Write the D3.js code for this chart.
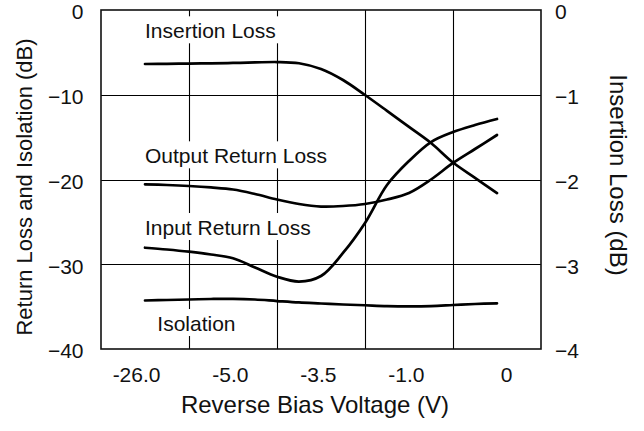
<!DOCTYPE html>
<html>
<head>
<meta charset="utf-8">
<script src="https://cdn.jsdelivr.net/npm/d3@7/dist/d3.min.js"></script>
<style>
  body { margin: 0; background: #fff; }
  svg text { font-family: "Liberation Sans", Arial, Helvetica, sans-serif; fill: #111; }
</style>
</head>
<body>
<div id="chart"></div>
<script>
// categories on the x axis (reverse bias voltage)
const voltages = ["-26.0", "-5.0", "-3.5", "-1.0", "0"];
const steps = [0, 0.25, 0.5, 0.75, 1, 1.25, 1.5, 1.75, 2, 2.25, 2.5, 2.75, 3, 3.25, 3.5, 3.75, 4];

// right axis (dB)
const insertionLoss = [-0.637, -0.635, -0.632, -0.629, -0.625, -0.619, -0.614, -0.628, -0.696,
  -0.826, -1.003, -1.19, -1.38, -1.57, -1.80, -1.98, -2.16];
// left axis (dB)
const outputReturnLoss = [-20.57, -20.65, -20.77, -20.94, -21.18, -21.71, -22.36, -22.89, -23.19,
  -23.13, -22.89, -22.36, -21.59, -20.0, -18.05, -16.4, -14.75];
const inputReturnLoss = [-28.05, -28.26, -28.52, -28.85, -29.3, -30.38, -31.47, -32.04, -31.39,
  -28.67, -25.13, -20.65, -17.82, -15.58, -14.4, -13.57, -12.86];
const isolation = [-34.28, -34.22, -34.16, -34.1, -34.08, -34.16, -34.34, -34.51, -34.63,
  -34.75, -34.84, -34.93, -34.96, -34.93, -34.81, -34.69, -34.61];

const leftTicks = [0, -10, -20, -30, -40];
const rightTicks = [0, -1, -2, -3, -4];

const width = 644, height = 431;
const margin = {top: 10, right: 103, bottom: 82, left: 101};

const svg = d3.select("#chart").append("svg")
  .attr("width", width)
  .attr("height", height);

const x = d3.scaleLinear().domain([-0.5, 4.5]).range([margin.left, width - margin.right]);
const yL = d3.scaleLinear().domain([-40, 0]).range([height - margin.bottom, margin.top]);
const yR = d3.scaleLinear().domain([-4, 0]).range([height - margin.bottom, margin.top]);

// grid
const grid = svg.append("g").attr("stroke", "#000").attr("stroke-width", 1.1);
grid.selectAll(".vg")
  .data(d3.range(0.5, 4, 1))
  .enter().append("line")
  .attr("x1", d => x(d) + 0.5).attr("x2", d => x(d) + 0.5)
  .attr("y1", yL(0)).attr("y2", yL(-40));
grid.selectAll(".hg")
  .data(leftTicks.slice(1, -1))
  .enter().append("line")
  .attr("x1", x(-0.5)).attr("x2", x(4.5))
  .attr("y1", d => Math.round(yL(d)) + 0.5).attr("y2", d => Math.round(yL(d)) + 0.5);

// curve labels with white boxes that break the grid
const labels = [
  {text: "Insertion Loss", i: 0, v: -3.34},
  {text: "Output Return Loss", i: 0, v: -18.09},
  {text: "Input Return Loss", i: 0, v: -26.55},
  {text: "Isolation", i: 0.14, v: -37.88}
];
const lab = svg.append("g").selectAll("g")
  .data(labels)
  .enter().append("g");
lab.append("text")
  .attr("x", d => x(d.i))
  .attr("y", d => yL(d.v))
  .style("font-size", "21px")
  .text(d => d.text);
lab.each(function () {
  const g = d3.select(this);
  const b = g.select("text").node().getBBox();
  g.insert("rect", "text")
    .attr("x", b.x - 4).attr("y", b.y - 3)
    .attr("width", b.width + 8).attr("height", b.height + 4)
    .attr("fill", "#fff");
});

// frame
svg.append("rect")
  .attr("x", x(-0.5)).attr("y", yL(0))
  .attr("width", x(4.5) - x(-0.5)).attr("height", yL(-40) - yL(0))
  .attr("fill", "none").attr("stroke", "#111").attr("stroke-width", 1.6);

// curves
const lineL = d3.line().x((d, k) => x(steps[k])).y(d => yL(d)).curve(d3.curveCatmullRom.alpha(0.5));
const lineR = d3.line().x((d, k) => x(steps[k])).y(d => yR(d)).curve(d3.curveCatmullRom.alpha(0.5));
const curves = svg.append("g").attr("fill", "none").attr("stroke", "#000")
  .attr("stroke-width", 2.7).attr("stroke-linecap", "round");
curves.append("path").attr("d", lineR(insertionLoss));
[outputReturnLoss, inputReturnLoss, isolation].forEach(s => {
  curves.append("path").attr("d", lineL(s));
});

// axes
const axL = svg.append("g")
  .attr("transform", `translate(${margin.left},0)`)
  .call(d3.axisLeft(yL).tickValues(leftTicks).tickFormat(d3.format("d")).tickSize(0).tickPadding(17.5));
const axR = svg.append("g")
  .attr("transform", `translate(${width - margin.right},0)`)
  .call(d3.axisRight(yR).tickValues(rightTicks).tickFormat(d3.format("d")).tickSize(0).tickPadding(14));
const axB = svg.append("g")
  .attr("transform", `translate(0,${height - margin.bottom})`)
  .call(d3.axisBottom(x).tickValues(d3.range(voltages.length)).tickFormat(k => voltages[k])
    .tickSize(0).tickPadding(18));
axB.selectAll("text").attr("text-anchor", "end").attr("x", 15);
[axL, axR, axB].forEach(a => {
  a.select(".domain").remove();
  a.selectAll("text").style("font-size", "21px").attr("fill", "#111");
});
axL.selectAll("text").attr("dy", "0.42em");
axR.selectAll("text").attr("dy", "0.42em");

// axis titles
svg.append("text")
  .attr("x", (x(-0.5) + x(4.5)) / 2 - 6).attr("y", 413)
  .attr("text-anchor", "middle")
  .style("font-size", "24px")
  .text("Reverse Bias Voltage (V)");
svg.append("text")
  .attr("transform", "translate(32,187) rotate(-90)")
  .attr("text-anchor", "middle")
  .style("font-size", "22px")
  .text("Return Loss and Isolation (dB)");
svg.append("text")
  .attr("transform", "translate(610,175) rotate(90)")
  .attr("text-anchor", "middle")
  .style("font-size", "24px")
  .text("Insertion Loss (dB)");
</script>
</body>
</html>
